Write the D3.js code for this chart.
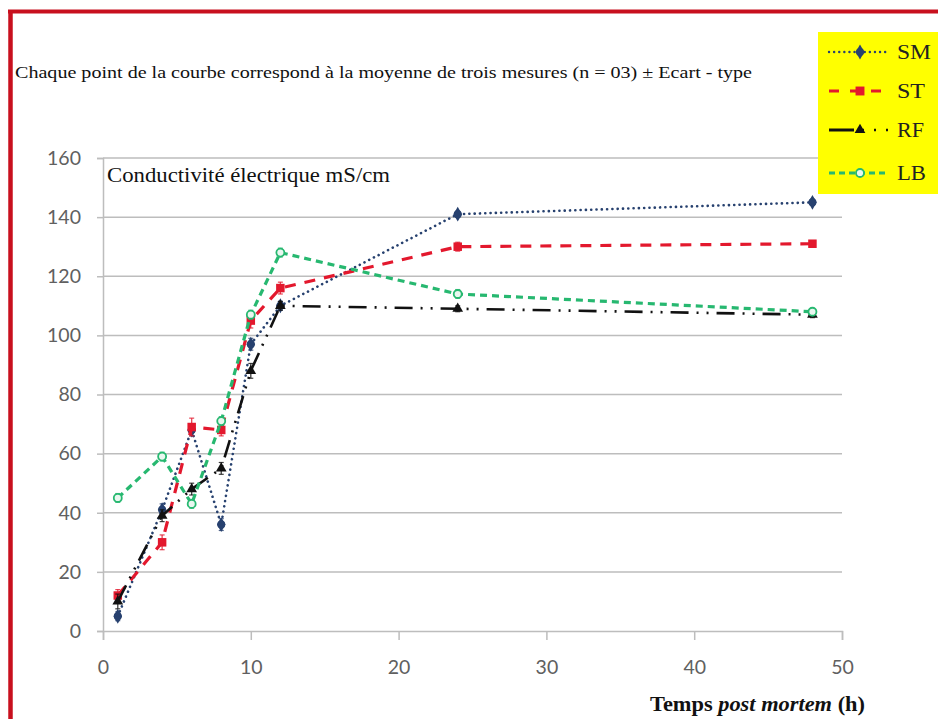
<!DOCTYPE html>
<html>
<head>
<meta charset="utf-8">
<script src="https://cdn.jsdelivr.net/npm/d3@7"></script>
<style>
  html, body { margin: 0; padding: 0; background: #fff; }
  svg { display: block; }
</style>
</head>
<body>
<svg id="chart" width="938" height="719"></svg>
<script>
// Hours post mortem at which conductivity was measured
const hours = [1, 4, 6, 8, 10, 12, 24, 48];

// Mean conductivity (mS/cm) per muscle
const smValues = [5, 41, 68, 36, 97, 110, 141, 145];
const stValues = [12, 30, 69, 68, 105, 116, 130, 131];
const rfValues = [10, 39, 48, 55, 88, 110, 109, 107];
const lbValues = [45, 59, 43, 71, 107, 128, 114, 108];

// Standard deviations
const smSd = [1.5, 2, 2, 2, 2, 1.5, 1, 1];
const stSd = [2, 2.5, 3, 2, 2.5, 2, 1.5, 1];
const rfSd = [2.5, 2, 2, 2, 2.5, 1.5, 1, 1];
const lbSd = [1.5, 1.5, 1.5, 1.5, 1.5, 1.5, 1.5, 1];

const seriesNames = ["SM", "ST", "RF", "LB"];
const xTicks = [0, 10, 20, 30, 40, 50];
const yTicks = [0, 20, 40, 60, 80, 100, 120, 140, 160];

const styles = {
  SM: { color: "#27416F", width: 2.6, dash: "0.1,5.2", cap: "round", marker: "circle" },
  ST: { color: "#E3182D", width: 3.2, dash: "11,9", cap: "butt", marker: "square" },
  RF: { color: "#111111", width: 2.6, dash: "18,8,2,8,2,8", cap: "butt", marker: "triangle" },
  LB: { color: "#27B870", width: 3.2, dash: "7,5", cap: "butt", marker: "open" }
};

const series = [
  { name: "SM", values: smValues, sd: smSd },
  { name: "ST", values: stValues, sd: stSd },
  { name: "RF", values: rfValues, sd: rfSd },
  { name: "LB", values: lbValues, sd: lbSd }
];

const serif = "'Liberation Serif', 'Times New Roman', serif";
const svg = d3.select("#chart");

// Frame: red rule along the top and the left edge
svg.append("line").attr("x1", 8).attr("x2", 938).attr("y1", 11.5).attr("y2", 11.5)
  .attr("stroke", "#C8101E").attr("stroke-width", 4);
svg.append("line").attr("x1", 10.5).attr("x2", 10.5).attr("y1", 10).attr("y2", 719)
  .attr("stroke", "#C8101E").attr("stroke-width", 4.5);

// Note above the chart
svg.append("text")
  .attr("x", 15).attr("y", 78)
  .attr("font-family", serif)
  .attr("font-size", 17).attr("fill", "#111")
  .attr("textLength", 737).attr("lengthAdjust", "spacingAndGlyphs")
  .text("Chaque point de la courbe correspond à la moyenne de trois mesures (n = 03) ± Ecart - type");

const x = d3.scaleLinear().domain([0, 50]).range([103, 842]);
const y = d3.scaleLinear().domain([0, 160]).range([631, 158]);

const gridColor = "#BDBDBD";
const tickFont = "Lato, 'Open Sans', sans-serif";

// Horizontal gridlines and y axis
const yAxis = d3.axisLeft(y).tickValues(yTicks).tickSize(6).tickPadding(16);
const yG = svg.append("g").attr("transform", `translate(${x(0)},0)`).call(yAxis);
yG.select(".domain").attr("stroke", gridColor).attr("stroke-width", 1.5);
yG.selectAll(".tick line").attr("stroke", gridColor).attr("stroke-width", 1.5);
yG.selectAll(".tick text").attr("font-family", tickFont).attr("font-size", 19.5).attr("fill", "#606060");
svg.append("g").selectAll("line").data(yTicks.filter(d => d > 0)).join("line")
  .attr("x1", x(0)).attr("x2", x(50))
  .attr("y1", d => y(d)).attr("y2", d => y(d))
  .attr("stroke", gridColor).attr("stroke-width", 1.5);

// x axis
const xAxis = d3.axisBottom(x).tickValues(xTicks).tickSize(9).tickPadding(20);
const xG = svg.append("g").attr("transform", `translate(0,${y(0)})`).call(xAxis);
xG.select(".domain").attr("stroke", gridColor).attr("stroke-width", 1.5);
xG.selectAll(".tick line").attr("stroke", gridColor).attr("stroke-width", 1.5);
xG.selectAll(".tick text").attr("font-family", tickFont).attr("font-size", 19.5).attr("fill", "#606060");

// Axis titles
svg.append("text")
  .attr("x", 107).attr("y", 182)
  .attr("font-family", serif)
  .attr("font-size", 21).attr("fill", "#111")
  .attr("textLength", 283).attr("lengthAdjust", "spacingAndGlyphs")
  .text("Conductivité électrique mS/cm");

const xt = svg.append("text")
  .attr("x", 650).attr("y", 711)
  .attr("font-family", serif)
  .attr("font-size", 20.5).attr("font-weight", "bold").attr("fill", "#111")
  .attr("textLength", 215).attr("lengthAdjust", "spacingAndGlyphs");
xt.append("tspan").text("Temps ");
xt.append("tspan").attr("font-style", "italic").text("post mortem");
xt.append("tspan").text(" (h)");

// Marker drawing
function drawMarker(g, kind, color, cx, cy, scale = 1) {
  if (kind === "circle") {
    g.append("path").attr("d", d3.symbol(d3.symbolDiamond, 64 * scale)())
      .attr("transform", `translate(${cx},${cy})`).attr("fill", color);
    g.append("circle").attr("cx", cx).attr("cy", cy).attr("r", 4 * Math.sqrt(scale)).attr("fill", color);
  } else if (kind === "square") {
    const s = 8.5 * Math.sqrt(scale);
    g.append("rect").attr("x", cx - s / 2).attr("y", cy - s / 2).attr("width", s).attr("height", s).attr("fill", color);
  } else if (kind === "triangle") {
    g.append("path").attr("d", d3.symbol(d3.symbolTriangle, 50 * scale)())
      .attr("transform", `translate(${cx},${cy})`).attr("fill", color);
  } else {
    g.append("circle").attr("cx", cx).attr("cy", cy).attr("r", 4 * Math.sqrt(scale))
      .attr("fill", "#EAF7F0").attr("stroke", color).attr("stroke-width", 1.8);
  }
}

const line = d3.line().x(d => x(d[0])).y(d => y(d[1]));
const plot = svg.append("g");

series.forEach(s => {
  const st = styles[s.name];
  const pts = hours.map((h, i) => [h, s.values[i], s.sd[i]]);
  const g = plot.append("g");
  // error bars
  g.selectAll("g.err").data(pts).join("g").each(function (d) {
    const e = d3.select(this);
    e.append("line").attr("x1", x(d[0])).attr("x2", x(d[0]))
      .attr("y1", y(d[1] - d[2])).attr("y2", y(d[1] + d[2]))
      .attr("stroke", st.color).attr("stroke-width", 1.3).attr("opacity", 0.8);
    [d[1] - d[2], d[1] + d[2]].forEach(v => {
      e.append("line").attr("x1", x(d[0]) - 2.5).attr("x2", x(d[0]) + 2.5)
        .attr("y1", y(v)).attr("y2", y(v)).attr("stroke", st.color).attr("stroke-width", 1.2).attr("opacity", 0.8);
    });
  });
  g.append("path").datum(pts).attr("d", line)
    .attr("fill", "none").attr("stroke", st.color).attr("stroke-width", st.width)
    .attr("stroke-dasharray", st.dash).attr("stroke-linecap", st.cap);
  pts.forEach(d => drawMarker(g, st.marker, st.color, x(d[0]), y(d[1])));
});

// Legend
const legend = svg.append("g");
legend.append("rect").attr("x", 818).attr("y", 32).attr("width", 120).attr("height", 162).attr("fill", "#FFFF00");
const legendY = [52, 91, 130, 173];
seriesNames.forEach((name, i) => {
  const st = styles[name];
  const ly = legendY[i];
  const g = legend.append("g");
  if (name === "RF") {
    g.append("line").attr("x1", 829).attr("x2", 854).attr("y1", ly).attr("y2", ly)
      .attr("stroke", st.color).attr("stroke-width", 3);
    g.append("line").attr("x1", 862).attr("x2", 888).attr("y1", ly).attr("y2", ly)
      .attr("stroke", st.color).attr("stroke-width", 2.4).attr("stroke-dasharray", "2,10");
  } else {
    g.append("line").attr("x1", 829).attr("x2", 889).attr("y1", ly).attr("y2", ly)
      .attr("stroke", st.color).attr("stroke-width", st.width * 0.9)
      .attr("stroke-dasharray", name === "SM" ? "0.1,5" : name === "ST" ? "10,11" : "6,4")
      .attr("stroke-linecap", st.cap);
  }
  drawMarker(g, st.marker, st.color, 860, ly, name === "ST" ? 1.1 : 1);
  g.append("text").attr("x", 897).attr("y", ly + 7)
    .attr("font-family", serif)
    .attr("font-size", 20).attr("fill", "#222")
    .attr("textLength", name === "SM" ? 34 : name === "ST" ? 28 : name === "RF" ? 27 : 29)
    .attr("lengthAdjust", "spacingAndGlyphs")
    .text(name);
});
</script>
</body>
</html>
